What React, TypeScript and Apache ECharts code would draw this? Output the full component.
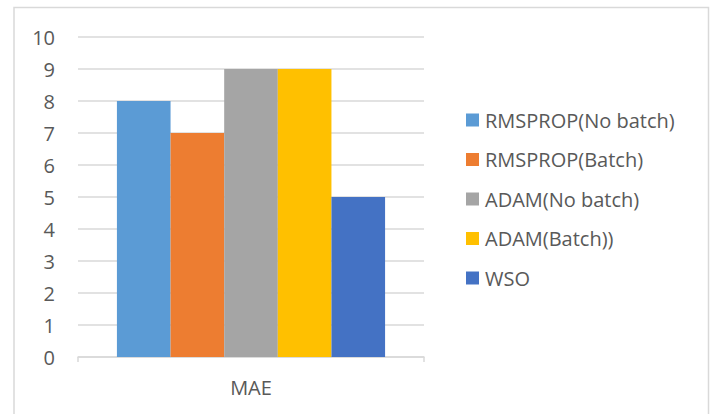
import React, { useEffect, useRef } from "react";
import * as echarts from "echarts";

const categories = ["MAE"];
const seriesNames = [
  "RMSPROP(No batch)",
  "RMSPROP(Batch)",
  "ADAM(No batch)",
  "ADAM(Batch))",
  "WSO",
];
const seriesValues = [[8], [7], [9], [9], [5]];
const seriesColors = ["#5B9BD5", "#ED7D31", "#A5A5A5", "#FFC000", "#4472C4"];

const FONT = "'Open Sans', 'Noto Sans', sans-serif";
const TEXT = "#595959";

export default function App() {
  const ref = useRef<HTMLDivElement>(null);

  useEffect(() => {
    if (!ref.current) return;
    const chart = echarts.init(ref.current, null, { renderer: "svg" });
    chart.setOption({
      animation: false,
      backgroundColor: "#ffffff",
      textStyle: { fontFamily: FONT },
      graphic: [
        {
          type: "rect",
          shape: { x: 14, y: 7.5, width: 694.5, height: 420 },
          style: { fill: "none", stroke: "#d9d9d9", lineWidth: 1.5 },
          silent: true,
        },
      ],
      grid: { left: 78, right: 291, top: 37, bottom: 57 },
      legend: {
        orient: "vertical",
        left: 466,
        top: 110,
        padding: 0,
        itemWidth: 13,
        itemHeight: 13,
        itemGap: 19.5,
        icon: "rect",
        data: seriesNames,
        textStyle: { color: TEXT, fontSize: 20, fontFamily: FONT, padding: [0, 0, 0, 1] },
      },
      xAxis: {
        type: "category",
        data: categories,
        axisLine: { lineStyle: { color: "#d9d9d9", width: 1.5 } },
        axisTick: { show: true, length: 5, lineStyle: { color: "#d9d9d9", width: 1.5 } },
        axisLabel: { color: TEXT, fontSize: 20, margin: 20 },
      },
      yAxis: {
        type: "value",
        min: 0,
        max: 10,
        interval: 1,
        axisLine: { show: false },
        axisTick: { show: false },
        axisLabel: { color: TEXT, fontSize: 20, margin: 23 },
        splitLine: { lineStyle: { color: "#d9d9d9", width: 1.5 } },
      },
      series: seriesNames.map((name, i) => ({
        name,
        type: "bar",
        data: seriesValues[i],
        barGap: "0%",
        barCategoryGap: "22.5%",
        itemStyle: { color: seriesColors[i] },
      })),
    });
    return () => chart.dispose();
  }, []);

  return (
    <div
      ref={ref}
      style={{ position: "fixed", left: 0, top: 0, width: 715, height: 414 }}
    />
  );
}
